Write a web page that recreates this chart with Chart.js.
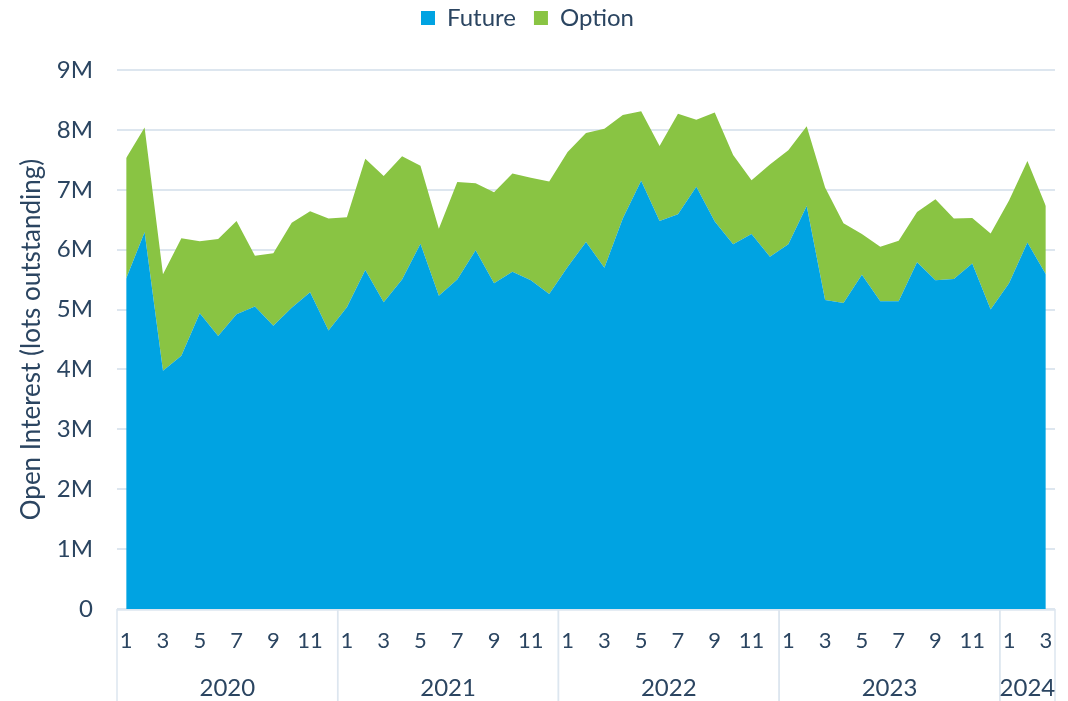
<!DOCTYPE html>
<html>
<head>
<meta charset="utf-8">
<script src="https://cdn.jsdelivr.net/npm/chart.js@4.4.1/dist/chart.umd.min.js"></script>
<style>
  html, body { margin: 0; padding: 0; background: #ffffff; }
  #wrap { width: 1068px; height: 701px; position: relative; }
</style>
</head>
<body>
<div id="wrap"><canvas id="oiChart"></canvas></div>
<script>
/*************************************************
 * DATA (millions of lots)
 *************************************************/
const years = ["2020", "2021", "2022", "2023", "2024"];
const monthsInYear = [12, 12, 12, 12, 3];

const monthLabels = [
  1, 2, 3, 4, 5, 6, 7, 8, 9, 10, 11, 12,
  1, 2, 3, 4, 5, 6, 7, 8, 9, 10, 11, 12,
  1, 2, 3, 4, 5, 6, 7, 8, 9, 10, 11, 12,
  1, 2, 3, 4, 5, 6, 7, 8, 9, 10, 11, 12,
  1, 2, 3
];

const futureValues = [
  5.52, 6.29, 3.98, 4.23, 4.94, 4.56, 4.92, 5.05, 4.73, 5.03, 5.29, 4.65,
  5.04, 5.66, 5.12, 5.50, 6.10, 5.23, 5.50, 5.99, 5.44, 5.63, 5.49, 5.26,
  5.71, 6.13, 5.70, 6.52, 7.15, 6.48, 6.59, 7.05, 6.47, 6.09, 6.26, 5.88,
  6.09, 6.73, 5.16, 5.11, 5.58, 5.14, 5.14, 5.79, 5.49, 5.51, 5.77, 5.00,
  5.44, 6.12, 5.59
];

const optionValues = [
  2.01, 1.75, 1.61, 1.96, 1.20, 1.62, 1.56, 0.85, 1.21, 1.42, 1.35, 1.87,
  1.50, 1.86, 2.11, 2.06, 1.30, 1.12, 1.63, 1.12, 1.52, 1.64, 1.71, 1.88,
  1.92, 1.82, 2.32, 1.73, 1.16, 1.25, 1.68, 1.12, 1.82, 1.49, 0.90, 1.54,
  1.57, 1.33, 1.88, 1.33, 0.68, 0.91, 1.01, 0.84, 1.35, 1.01, 0.76, 1.27,
  1.38, 1.36, 1.14
];

const yTicks = [0, 1, 2, 3, 4, 5, 6, 7, 8, 9];

const TEXT = "#2b4561";
const GRID = "#dde6ef";
const FONT = "Lato, 'Noto Sans', sans-serif";

/*************************************************
 * LEGEND SPACING (extra room under the legend)
 *************************************************/
const legendGap = {
  id: "legendGap",
  beforeLayout(chart) {
    const lg = chart.legend;
    if (lg && !lg._gapPatched) {
      const fit = lg.fit.bind(lg);
      lg.fit = function () { fit(); this.height += 30; };
      lg._gapPatched = true;
    }
  }
};

/*************************************************
 * YEAR GROUP ROW (below month ticks)
 *************************************************/
const yearRow = {
  id: "yearRow",
  afterDraw(chart) {
    const ctx = chart.ctx;
    const x = chart.scales.x;
    const top = chart.chartArea.bottom;
    const bottom = chart.height;
    const step = x.getPixelForValue(1) - x.getPixelForValue(0);

    ctx.save();
    ctx.strokeStyle = GRID;
    ctx.lineWidth = 1.5;
    ctx.fillStyle = TEXT;
    ctx.font = "24px " + FONT;
    ctx.textAlign = "center";
    ctx.textBaseline = "middle";

    let start = 0;
    years.forEach((yr, i) => {
      const end = start + monthsInYear[i] - 1;
      const left = x.getPixelForValue(start) - step / 2;
      const right = x.getPixelForValue(end) + step / 2;

      ctx.beginPath();
      ctx.moveTo(left, top);
      ctx.lineTo(left, bottom);
      ctx.moveTo(right, top);
      ctx.lineTo(right, bottom);
      ctx.stroke();

      ctx.fillText(yr, (left + right) / 2, 688);
      start = end + 1;
    });

    ctx.beginPath();
    ctx.moveTo(x.left, top + 1);
    ctx.lineTo(x.right, top + 1);
    ctx.stroke();
    ctx.restore();
  }
};

/*************************************************
 * CHART
 *************************************************/
const ctx = document.getElementById("oiChart").getContext("2d");

new Chart(ctx, {
  type: "line",
  data: {
    labels: monthLabels,
    datasets: [
      {
        label: "Future",
        data: futureValues,
        backgroundColor: "#00a3e2",
        borderColor: "#00a3e2",
        borderWidth: 0,
        pointRadius: 0,
        fill: "origin",
        tension: 0
      },
      {
        label: "Option",
        data: optionValues,
        backgroundColor: "#89c443",
        borderColor: "#89c443",
        borderWidth: 0,
        pointRadius: 0,
        fill: "-1",
        tension: 0
      }
    ]
  },
  options: {
    responsive: true,
    maintainAspectRatio: false,
    animation: false,
    layout: { padding: { top: -12, right: 13, left: 0, bottom: 0 } },
    plugins: {
      legend: {
        position: "top",
        labels: {
          color: TEXT,
          font: { family: FONT, size: 24 },
          boxWidth: 14,
          boxHeight: 14,
          padding: 18
        }
      },
      tooltip: { enabled: false }
    },
    scales: {
      x: {
        type: "category",
        offset: true,
        stacked: true,
        grid: { display: false, drawTicks: false },
        border: { display: false },
        ticks: {
          autoSkip: false,
          maxRotation: 0,
          padding: 19,
          color: TEXT,
          font: { family: FONT, size: 22 },
          callback: (v, i) => (monthLabels[i] % 2 === 1 ? String(monthLabels[i]) : "")
        },
        afterFit: scale => {
          scale.height = 92;
          scale.paddingLeft = 0;
          scale.paddingRight = 0;
        }
      },
      y: {
        stacked: true,
        min: 0,
        max: 9,
        afterBuildTicks: scale => { scale.ticks = yTicks.map(v => ({ value: v })); },
        grid: { color: GRID, lineWidth: 2, drawTicks: false },
        border: { display: false },
        ticks: {
          padding: 24,
          color: TEXT,
          font: { family: FONT, size: 24 },
          callback: v => (v === 0 ? "0" : v + "M")
        },
        title: {
          display: true,
          text: "Open Interest (lots outstanding)",
          color: TEXT,
          font: { family: FONT, size: 26 },
          padding: { top: 16, bottom: 0 }
        },
        afterFit: scale => { scale.width = 117; }
      }
    }
  },
  plugins: [legendGap, yearRow]
});
</script>
</body>
</html>
